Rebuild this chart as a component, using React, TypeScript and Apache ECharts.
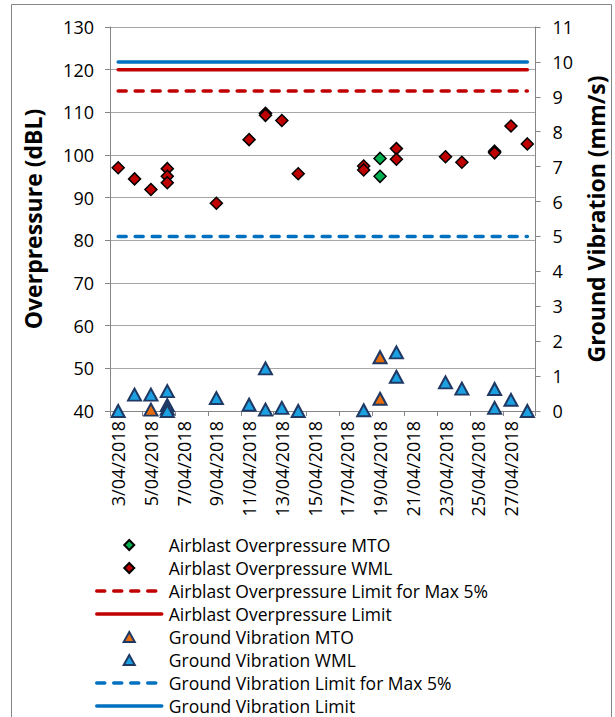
import React, { useEffect, useRef } from "react";
import * as echarts from "echarts";

const dates = [
  "3/04/2018", "4/04/2018", "5/04/2018", "6/04/2018", "7/04/2018", "8/04/2018",
  "9/04/2018", "10/04/2018", "11/04/2018", "12/04/2018", "13/04/2018", "14/04/2018",
  "15/04/2018", "16/04/2018", "17/04/2018", "18/04/2018", "19/04/2018", "20/04/2018",
  "21/04/2018", "22/04/2018", "23/04/2018", "24/04/2018", "25/04/2018", "26/04/2018",
  "27/04/2018", "28/04/2018",
];

const abMtoDates = ["19/04/2018", "19/04/2018"];
const abMtoValues = [99.2, 95.0];

const abWmlDates = [
  "3/04/2018", "4/04/2018", "5/04/2018", "6/04/2018", "6/04/2018", "6/04/2018",
  "9/04/2018", "11/04/2018", "12/04/2018", "12/04/2018", "13/04/2018", "14/04/2018",
  "18/04/2018", "18/04/2018", "20/04/2018", "20/04/2018", "23/04/2018", "24/04/2018",
  "26/04/2018", "26/04/2018", "27/04/2018", "28/04/2018",
];
const abWmlValues = [
  97.0, 94.4, 91.9, 96.8, 95.0, 93.5,
  88.7, 103.6, 109.8, 109.3, 108.1, 95.6,
  97.4, 96.5, 101.5, 99.0, 99.6, 98.3,
  100.9, 100.5, 106.8, 102.6,
];

const gvMtoDates = ["5/04/2018", "19/04/2018", "19/04/2018"];
const gvMtoValues = [0.04, 1.54, 0.35];

const gvWmlDates = [
  "3/04/2018", "4/04/2018", "5/04/2018", "6/04/2018", "6/04/2018", "6/04/2018", "6/04/2018",
  "9/04/2018", "11/04/2018", "12/04/2018", "12/04/2018", "13/04/2018", "14/04/2018",
  "18/04/2018", "20/04/2018", "20/04/2018", "23/04/2018", "24/04/2018",
  "26/04/2018", "26/04/2018", "27/04/2018", "28/04/2018",
];
const gvWmlValues = [
  0.0, 0.47, 0.47, 0.57, 0.17, 0.07, 0.0,
  0.37, 0.18, 1.22, 0.04, 0.09, 0.0,
  0.02, 1.68, 0.98, 0.82, 0.64,
  0.63, 0.09, 0.32, 0.0,
];

const abLimit5 = 115;
const abLimit = 120;
const gvLimit5 = 5;
const gvLimit = 10;

const leftTicks = { min: 40, max: 130, interval: 10 };
const rightTicks = { min: 0, max: 11, interval: 1 };

const FONT = "Open Sans";
const AXIS_GRAY = "#868686";
const DIAMOND_ICON = "path://M5,0L10,5L5,10L0,5Z";
const TRIANGLE_ICON = "path://M5,0L10,9L0,9Z";

function pairs(ds: string[], vs: number[]) {
  return ds.map((d, i) => [dates.indexOf(d), vs[i]]);
}
function flat(v: number) {
  return [
    [0, v],
    [dates.length - 1, v],
  ];
}

export default function App() {
  const ref = useRef<HTMLDivElement>(null);
  useEffect(() => {
    if (!ref.current) return;
    const chart = echarts.init(ref.current, null, { renderer: "svg" });
    const lineBase = (name: string, color: string, v: number, dashed: boolean, yIdx: number) => ({
      name,
      type: "line",
      yAxisIndex: yIdx,
      data: flat(v),
      symbol: "none",
      showSymbol: false,
      silent: true,
      lineStyle: {
        color,
        width: 3.5,
        type: dashed ? [8, 9] : "solid",
        cap: "round",
      },
      itemStyle: { color },
      z: 3,
    });
    const lineLegend = (name: string) => ({
      name,
      icon: "inherit",
      itemStyle: { opacity: 0, borderWidth: 0, color: "rgba(0,0,0,0)", borderColor: "rgba(0,0,0,0)" },
    });
    chart.setOption({
      animation: false,
      backgroundColor: "#ffffff",
      textStyle: { fontFamily: FONT },
      graphic: [
        {
          type: "rect",
          shape: { x: 11.5, y: 4.5, width: 600, height: 800 },
          style: { fill: "none", stroke: AXIS_GRAY, lineWidth: 1 },
          silent: true,
          z: 0,
        },
      ],
      grid: { left: 110, right: 66, top: 27, bottom: 306, containLabel: false },
      legend: {
        orient: "vertical",
        left: 95,
        top: 536,
        itemWidth: 65,
        itemHeight: 10,
        itemGap: 5,
        padding: 0,
        lineStyle: { width: 3.5 },
        textStyle: { fontFamily: FONT, fontSize: 17.5, color: "#000", lineHeight: 18, padding: [0, 0, 0, 2] },
        data: [
          { name: "Airblast Overpressure MTO", icon: DIAMOND_ICON },
          { name: "Airblast Overpressure WML", icon: DIAMOND_ICON },
          lineLegend("Airblast Overpressure Limit for Max 5%"),
          lineLegend("Airblast Overpressure Limit"),
          { name: "Ground Vibration MTO", icon: TRIANGLE_ICON },
          { name: "Ground Vibration WML", icon: TRIANGLE_ICON },
          lineLegend("Ground Vibration Limit for Max 5%"),
          lineLegend("Ground Vibration Limit"),
        ],
      },
      xAxis: {
        type: "category",
        data: dates,
        boundaryGap: true,
        axisLine: { show: true, lineStyle: { color: AXIS_GRAY, width: 1 } },
        axisTick: { show: true, interval: 1, length: 5, lineStyle: { color: AXIS_GRAY } },
        axisLabel: {
          interval: 1,
          rotate: 90,
          margin: 10,
          fontFamily: FONT,
          fontSize: 18,
          color: "#000",
        },
        splitLine: { show: false },
      },
      yAxis: [
        {
          type: "value",
          position: "left",
          ...leftTicks,
          name: "Overpressure (dBL)",
          nameLocation: "middle",
          nameRotate: 90,
          nameGap: 66,
          nameTextStyle: { fontFamily: FONT, fontSize: 23, fontWeight: "bold", color: "#000" },
          axisLine: { show: true, lineStyle: { color: AXIS_GRAY, width: 1 } },
          axisTick: { show: true, length: 5, lineStyle: { color: AXIS_GRAY } },
          axisLabel: { margin: 16, fontFamily: FONT, fontSize: 18, color: "#000" },
          splitLine: { show: true, lineStyle: { color: "#A6A6A6", width: 1 } },
        },
        {
          type: "value",
          position: "right",
          ...rightTicks,
          name: "Ground Vibration (mm/s)",
          nameLocation: "middle",
          nameRotate: 90,
          nameGap: 45,
          nameTextStyle: { fontFamily: FONT, fontSize: 23, fontWeight: "bold", color: "#000" },
          axisLine: { show: true, lineStyle: { color: AXIS_GRAY, width: 1 } },
          axisTick: { show: true, length: 5, lineStyle: { color: AXIS_GRAY } },
          axisLabel: { margin: 17, fontFamily: FONT, fontSize: 18, color: "#000" },
          splitLine: { show: false },
        },
      ],
      series: [
        {
          name: "Airblast Overpressure MTO",
          type: "scatter",
          yAxisIndex: 0,
          data: pairs(abMtoDates, abMtoValues),
          symbol: "diamond",
          symbolSize: 12,
          clip: false,
          itemStyle: { color: "#00B050", borderColor: "#000", borderWidth: 1.5, opacity: 1 },
          z: 5,
        },
        {
          name: "Airblast Overpressure WML",
          type: "scatter",
          yAxisIndex: 0,
          data: pairs(abWmlDates, abWmlValues),
          symbol: "diamond",
          symbolSize: 12,
          clip: false,
          itemStyle: { color: "#C00000", borderColor: "#000", borderWidth: 1.5, opacity: 1 },
          z: 5,
        },
        lineBase("Airblast Overpressure Limit for Max 5%", "#C00000", abLimit5, true, 0),
        lineBase("Airblast Overpressure Limit", "#C00000", abLimit, false, 0),
        {
          name: "Ground Vibration MTO",
          type: "scatter",
          yAxisIndex: 1,
          data: pairs(gvMtoDates, gvMtoValues),
          symbol: "triangle",
          symbolSize: [13, 12],
          clip: false,
          itemStyle: { color: "#E46C0A", borderColor: "#1F3864", borderWidth: 2, opacity: 1 },
          z: 5,
        },
        {
          name: "Ground Vibration WML",
          type: "scatter",
          yAxisIndex: 1,
          data: pairs(gvWmlDates, gvWmlValues),
          symbol: "triangle",
          symbolSize: [13, 12],
          clip: false,
          itemStyle: { color: "#1BA1E2", borderColor: "#1F3864", borderWidth: 2, opacity: 1 },
          z: 5,
        },
        lineBase("Ground Vibration Limit for Max 5%", "#0070C0", gvLimit5, true, 1),
        lineBase("Ground Vibration Limit", "#0070C0", gvLimit, false, 1),
      ],
    });
    return () => chart.dispose();
  }, []);
  return (
    <div
      ref={ref}
      style={{ position: "fixed", left: 0, top: 0, width: 615, height: 717, background: "#fff" }}
    />
  );
}
